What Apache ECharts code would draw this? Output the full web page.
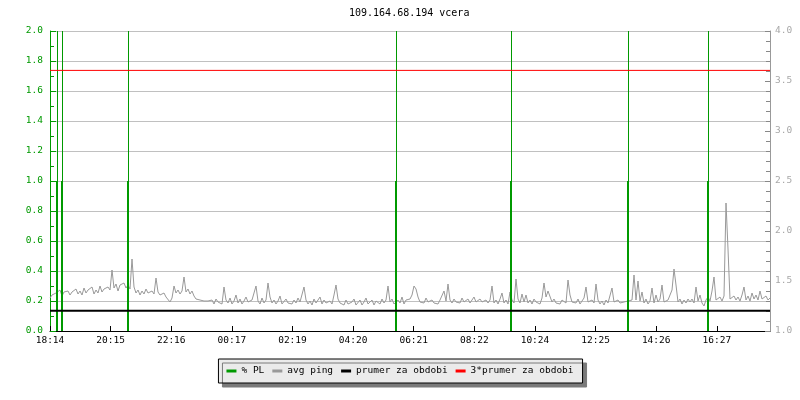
<!DOCTYPE html>
<html>
<head>
<meta charset="utf-8">
<script src="https://cdn.jsdelivr.net/npm/echarts@6/dist/echarts.min.js"></script>
<style>
  html, body { margin: 0; padding: 0; background: #fff; }
  #chart { width: 800px; height: 400px; }
</style>
</head>
<body>
<div id="chart"></div>
<script>
// cas v minutach od 18:14 (vcera), krok vzorku 4 min
var startMinute = 1094.2
var tickStep = 121.24
var sampleStep = 4

// avg ping [ms], prava osa
var avgPing = [
  1.33, 1.36, 1.34, 1.38, 1.36, 1.41, 1.35, 1.39, 1.37, 1.40, 1.36, 1.39, 1.38, 1.42, 1.37, 1.40, 1.36, 1.43, 1.38, 1.41,
  1.39, 1.44, 1.37, 1.41, 1.38, 1.45, 1.39, 1.42, 1.40, 1.44, 1.41, 1.61, 1.43, 1.47, 1.40, 1.46, 1.44, 1.48, 1.43, 1.46,
  1.42, 1.72, 1.44, 1.38, 1.41, 1.36, 1.40, 1.37, 1.42, 1.38, 1.36, 1.40, 1.37, 1.53, 1.39, 1.36, 1.35, 1.38, 1.34, 1.36,
  1.29, 1.33, 1.45, 1.38, 1.41, 1.37, 1.40, 1.54, 1.39, 1.42, 1.37, 1.40, 1.35, 1.32, 1.30, 1.31, 1.29, 1.30, 1.28, 1.30,
  1.29, 1.31, 1.27, 1.32, 1.29, 1.30, 1.27, 1.44, 1.31, 1.28, 1.33, 1.27, 1.30, 1.36, 1.28, 1.32, 1.27, 1.30, 1.34, 1.29,
  1.28, 1.31, 1.29, 1.45, 1.30, 1.27, 1.33, 1.28, 1.31, 1.48, 1.34, 1.28, 1.31, 1.27, 1.30, 1.35, 1.27, 1.29, 1.32, 1.28,
  1.30, 1.27, 1.31, 1.28, 1.33, 1.29, 1.30, 1.44, 1.31, 1.27, 1.30, 1.26, 1.32, 1.28, 1.30, 1.34, 1.27, 1.31, 1.28, 1.29,
  1.30, 1.27, 1.36, 1.46, 1.32, 1.28, 1.30, 1.26, 1.31, 1.27, 1.25, 1.29, 1.32, 1.26, 1.28, 1.31, 1.26, 1.29, 1.33, 1.27,
  1.28, 1.31, 1.26, 1.30, 1.29, 1.27, 1.32, 1.28, 1.31, 1.45, 1.29, 1.32, 1.27, 1.26, 1.31, 1.28, 1.34, 1.27, 1.31, 1.29,
  1.32, 1.36, 1.45, 1.42, 1.34, 1.29, 1.31, 1.28, 1.33, 1.29, 1.27, 1.31, 1.28, 1.30, 1.27, 1.31, 1.29, 1.40, 1.30, 1.47,
  1.31, 1.28, 1.32, 1.29, 1.31, 1.28, 1.33, 1.29, 1.30, 1.32, 1.28, 1.31, 1.34, 1.29, 1.30, 1.32, 1.29, 1.27, 1.31, 1.28,
  1.31, 1.45, 1.28, 1.31, 1.27, 1.32, 1.38, 1.28, 1.31, 1.27, 1.39, 1.31, 1.28, 1.52, 1.32, 1.28, 1.37, 1.29, 1.36, 1.28,
  1.31, 1.27, 1.32, 1.29, 1.31, 1.27, 1.33, 1.48, 1.34, 1.40, 1.38, 1.29, 1.32, 1.28, 1.30, 1.27, 1.31, 1.33, 1.28, 1.51,
  1.36, 1.29, 1.31, 1.28, 1.32, 1.27, 1.30, 1.33, 1.44, 1.29, 1.27, 1.31, 1.28, 1.47, 1.31, 1.27, 1.30, 1.26, 1.31, 1.28,
  1.30, 1.43, 1.29, 1.27, 1.31, 1.28, 1.26, 1.29, 1.27, 1.30, 1.28, 1.31, 1.56, 1.31, 1.50, 1.30, 1.39, 1.28, 1.32, 1.27,
  1.30, 1.43, 1.28, 1.36, 1.29, 1.32, 1.46, 1.29, 1.27, 1.31, 1.29, 1.41, 1.62, 1.46, 1.29, 1.32, 1.27, 1.31, 1.28, 1.32,
  1.29, 1.32, 1.28, 1.44, 1.30, 1.36, 1.28, 1.25, 1.31, 1.34, 1.30, 1.40, 1.54, 1.31, 1.29, 1.34, 1.30, 1.35, 2.28, 1.82,
  1.32, 1.30, 1.35, 1.31, 1.34, 1.30, 1.36, 1.44, 1.31, 1.35, 1.30, 1.38, 1.32, 1.36, 1.31, 1.40, 1.32, 1.30, 1.35, 1.31,
  1.33
]

// packet loss udalosti (minuty) a hodnoty, leva osa
var plTimes = [14, 24, 156, 692, 922, 1156, 1316]
var plValues = [1, 1, 1, 1, 1, 1, 1]

var prumer = 1.202
var trojPrumer = 3 * prumer

var green = '#009900'
var font = 'DejaVu Sans Mono'

function timeLabel (v) {
  var m = Math.floor(startMinute + v + 1e-6) % 1440
  var h = Math.floor(m / 60)
  var mm = m % 60
  return (h < 10 ? '0' : '') + h + ':' + (mm < 10 ? '0' : '') + mm
}

var pingData = avgPing.map(function (v, i) { return [i * sampleStep, v] })
var plData = plTimes.map(function (t, i) { return [t, plValues[i]] })

// PL: tlusty sloupek do hodnoty, nad nim tenka cara az nahoru
function renderPL (params, api) {
  var p = api.coord([api.value(0), api.value(1)])
  var p0 = api.coord([api.value(0), 0])
  var top = params.coordSys.y
  var x = Math.round(p[0])
  return {
    type: 'group',
    children: [
      {
        type: 'rect',
        shape: { x: x - 1, y: p[1], width: 2, height: p0[1] - p[1] },
        style: { fill: green }
      },
      {
        type: 'rect',
        shape: { x: x, y: top, width: 1, height: p[1] - top },
        style: { fill: green }
      }
    ]
  }
}

var myChart = echarts.init(document.getElementById('chart'))
myChart.setOption({
  animation: false,
  backgroundColor: '#fff',
  title: {
    text: '109.164.68.194 vcera',
    left: 349,
    top: 8,
    padding: 0,
    textStyle: { fontFamily: font, fontSize: 10, fontWeight: 'normal', color: '#000' }
  },
  legend: {
    top: 359,
    left: 'center',
    padding: [7, 9, 7, 8],
    itemGap: 8,
    itemWidth: 10,
    itemHeight: 3,
    icon: 'rect',
    backgroundColor: '#ebebeb',
    borderColor: '#000',
    borderWidth: 1,
    borderRadius: 0,
    shadowColor: '#7a7a7a',
    shadowBlur: 0,
    shadowOffsetX: 4,
    shadowOffsetY: 4,
    textStyle: { fontFamily: font, fontSize: 9.5, color: '#000', lineHeight: 10 },
    data: ['% PL', 'avg ping', 'prumer za obdobi', '3*prumer za obdobi']
  },
  grid: { left: 50, right: 30, top: 31, bottom: 69 },
  xAxis: {
    type: 'value',
    min: 0,
    max: 1440,
    interval: tickStep,
    axisLine: { lineStyle: { color: '#000', width: 1 } },
    axisTick: { inside: true, length: 5, lineStyle: { color: '#000' } },
    splitLine: { show: false },
    axisLabel: {
      color: '#000', fontFamily: font, fontSize: 9.5, margin: 5,
      showMaxLabel: false,
      formatter: timeLabel
    }
  },
  yAxis: [
    {
      type: 'value',
      min: 0,
      max: 2,
      interval: 0.2,
      axisLine: { show: true, lineStyle: { color: green } },
      axisTick: { show: true, inside: true, length: 6, lineStyle: { color: green } },
      minorTick: { show: true, splitNumber: 2, length: 4, lineStyle: { color: green } },
      splitLine: { show: true, lineStyle: { color: '#c0c0c0', width: 1 } },
      axisLabel: {
        color: green, fontFamily: font, fontSize: 9.5, margin: 7,
        formatter: function (v) { return v.toFixed(1) }
      }
    },
    {
      type: 'value',
      min: 1,
      max: 4,
      interval: 0.5,
      position: 'right',
      axisLine: { show: true, lineStyle: { color: '#999' } },
      axisTick: { show: true, inside: true, length: 5, lineStyle: { color: '#888' } },
      minorTick: { show: true, splitNumber: 5, length: 4, lineStyle: { color: '#888' } },
      splitLine: { show: false },
      axisLabel: {
        color: '#a8a8a8', fontFamily: font, fontSize: 9.5, margin: 5,
        formatter: function (v) { return v.toFixed(1) }
      }
    }
  ],
  series: [
    {
      name: 'avg ping',
      type: 'line',
      yAxisIndex: 1,
      data: pingData,
      showSymbol: false,
      symbol: 'none',
      color: '#999',
      lineStyle: { color: '#999', width: 1 },
      z: 2
    },
    {
      name: '% PL',
      type: 'custom',
      yAxisIndex: 0,
      data: plData,
      encode: { x: 0, y: 1 },
      renderItem: renderPL,
      color: green,
      itemStyle: { color: green },
      z: 3
    },
    {
      name: 'prumer za obdobi',
      type: 'line',
      yAxisIndex: 1,
      data: [[0, prumer], [1440, prumer]],
      showSymbol: false,
      symbol: 'none',
      color: '#000',
      lineStyle: { color: '#000', width: 2 },
      z: 4
    },
    {
      name: '3*prumer za obdobi',
      type: 'line',
      yAxisIndex: 1,
      data: [[0, trojPrumer], [1440, trojPrumer]],
      showSymbol: false,
      symbol: 'none',
      color: '#f00',
      lineStyle: { color: '#f00', width: 1 },
      z: 4
    }
  ]
})
</script>
</body>
</html>
